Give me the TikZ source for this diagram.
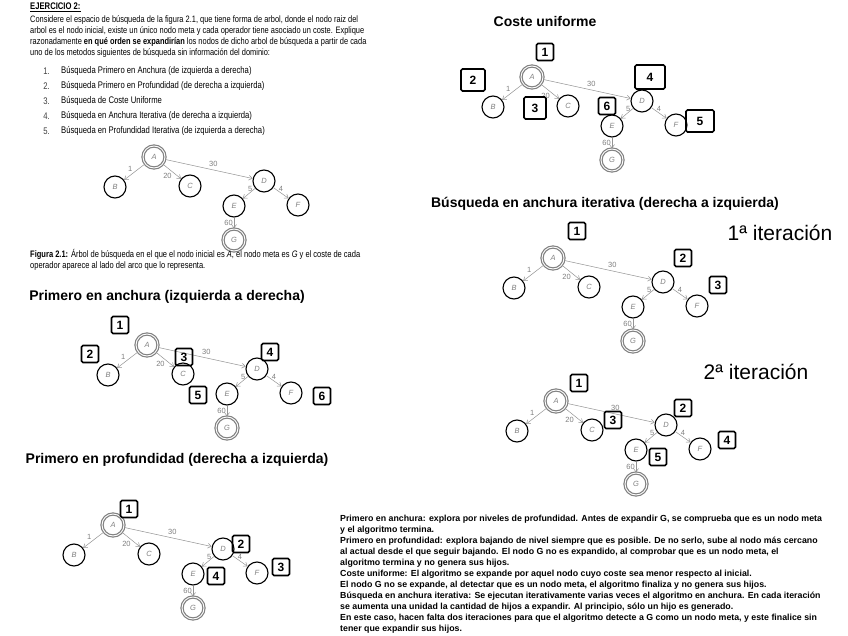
\documentclass[tikz,border=0pt]{standalone}
\usepackage{fontspec}
\setmainfont{Liberation Sans}
\newfontfamily\estrecha[FakeStretch=0.8]{Liberation Sans}
\usetikzlibrary{arrows.meta}

\tikzset{
  nodo/.style={circle, draw, line width=1.1pt, minimum size=22pt, inner sep=0pt,
    text=gray, font=\fontsize{7.5}{7.5}\selectfont\itshape},
  inicial/.style={draw=gray, double=white, double distance=0.9pt, line width=1.2pt},
  arco/.style={draw=gray!85, line width=0.5pt, -{Straight Barb[length=3.5pt,width=5pt]}},
  coste/.style={text=gray, font=\fontsize{7.5}{7.5}\selectfont, inner sep=1pt},
  marca/.style={draw, line width=1.7pt, rounded corners=1.5pt, minimum size=17pt,
    inner sep=1pt, font=\fontsize{12}{12}\selectfont\bfseries},
  titulo/.style={font=\fontsize{14}{16}\selectfont\bfseries},
  mano/.style={font=\fontsize{21}{21}\selectfont},
  pics/arbol/.style={code={
    \node[nodo, inicial] (-nA) at (0,0) {A};
    \node[nodo] (-nB) at (-39,30) {B};
    \node[nodo] (-nC) at (36,29) {C};
    \node[nodo] (-nD) at (110,24) {D};
    \node[nodo] (-nE) at (80,49) {E};
    \node[nodo] (-nF) at (144,48) {F};
    \node[nodo, inicial] (-nG) at (80,83) {G};
    \draw[arco] (-nA) -- node[coste, pos=0.55, above left=0pt] {1} (-nB);
    \draw[arco] (-nA) -- node[coste, pos=0.55, below left=0pt] {20} (-nC);
    \draw[arco] (-nA) -- node[coste, pos=0.55, above=2pt] {30} (-nD);
    \draw[arco] (-nD) -- node[coste, pos=0.4, above=0pt] {5} (-nE);
    \draw[arco] (-nD) -- node[coste, pos=0.5, above=0pt] {4} (-nF);
    \draw[arco] (-nE.south) -- node[coste, pos=0.5, left=0pt] {60} (-nG.north);
  }}
}

\begin{document}
\begin{tikzpicture}[x=1pt, y=-1pt]
  \useasboundingbox[fill=white] (0,0) rectangle (848,636);

  % Enunciado del ejercicio
  \node[anchor=north west, inner sep=0pt, font=\estrecha\fontsize{9.6}{11}\selectfont\bfseries]
    (cab) at (30,3) {\underline{EJERCICIO 2:}};
  \node[anchor=north west, inner sep=0pt, align=left, font=\estrecha\fontsize{9.3}{11}\selectfont]
    (enun) at (30,15) {Considere el espacio de búsqueda de la figura 2.1, que tiene forma de arbol, donde el nodo raiz del\\
    arbol es el nodo inicial, existe un único nodo meta y cada operador tiene asociado un coste. Explique\\
    razonadamente \textbf{en qué orden se expandirían} los nodos de dicho arbol de búsqueda a partir de cada\\
    uno de los metodos siguientes de búsqueda sin información del dominio:};
  \foreach \i/\txt in {1/Búsqueda Primero en Anchura (de izquierda a derecha),
      2/Búsqueda Primero en Profundidad (de derecha a izquierda),
      3/Búsqueda de Coste Uniforme,
      4/Búsqueda en Anchura Iterativa (de derecha a izquierda),
      5/Búsqueda en Profundidad Iterativa (de izquierda a derecha)} {
    \node[anchor=east, inner sep=0pt, font=\estrecha\fontsize{9.6}{11}\selectfont, text=darkgray]
      (num\i) at (50,56+15*\i) {\i.};
    \node[anchor=west, inner sep=0pt, font=\estrecha\fontsize{9.6}{11}\selectfont]
      (item\i) at (61,56+15*\i) {\txt};
  }

  % Figura 2.1
  \pic (t1) at (154,157) {arbol};
  \node[anchor=north west, inner sep=0pt, align=left, font=\estrecha\fontsize{9.4}{11}\selectfont]
    (pie) at (30,249) {\textbf{Figura 2.1:} Árbol de búsqueda en el que el nodo inicial es \textit{A}, el nodo meta es \textit{G} y el coste de cada\\
    operador aparece al lado del arco que lo representa.};

  % Primero en anchura
  \node[titulo] (tit2) at (167,297) {Primero en anchura (izquierda a derecha)};
  \pic (t2) at (147,345) {arbol};
  \node[marca] (m21) at (120,325) {1};
  \node[marca] (m22) at (90,354) {2};
  \node[marca] (m23) at (184,357) {3};
  \node[marca] (m24) at (270,352) {4};
  \node[marca] (m25) at (198,395) {5};
  \node[marca] (m26) at (322,396) {6};

  % Primero en profundidad
  \node[titulo] (tit3) at (177,460) {Primero en profundidad (derecha a izquierda)};
  \pic (t3) at (113,525) {arbol};
  \node[marca] (m31) at (129,509) {1};
  \node[marca] (m32) at (241,544) {2};
  \node[marca] (m33) at (281,567) {3};
  \node[marca] (m34) at (216,576) {4};

  % Coste uniforme
  \node[titulo] (tit4) at (545,22) {Coste uniforme};
  \pic (t4) at (532,77) {arbol};
  \node[marca] (m41) at (545,52) {1};
  \node[marca, minimum width=24pt, minimum height=22pt] (m42) at (473,80) {2};
  \node[marca, minimum width=22pt, minimum height=22pt] (m43) at (535,108) {3};
  \node[marca, minimum width=30pt, minimum height=24pt] (m44) at (650,77) {4};
  \node[marca, minimum width=28pt, minimum height=22pt] (m45) at (700,121) {5};
  \node[marca] (m46) at (607,106) {6};

  % Anchura iterativa
  \node[titulo] (tit5) at (605,204) {Búsqueda en anchura iterativa (derecha a izquierda)};
  \pic (t5) at (553,258) {arbol};
  \node[marca] (m51) at (577,231) {1};
  \node[marca] (m52) at (683,258) {2};
  \node[marca] (m53) at (718,285) {3};
  \node[mano] (it1) at (780,233) {1ª iteración};
  \pic (t6) at (556,401) {arbol};
  \node[marca] (m61) at (579,383) {1};
  \node[marca] (m62) at (683,408) {2};
  \node[marca] (m63) at (613,420) {3};
  \node[marca] (m64) at (727,440) {4};
  \node[marca] (m65) at (658,457) {5};
  \node[mano] (it2) at (756,372) {2ª iteración};

  % Explicacion
  \node[anchor=north west, inner sep=0pt, align=left, font=\fontsize{8.8}{11}\selectfont\bfseries]
    (expl) at (340,515) {Primero en anchura: explora por niveles de profundidad. Antes de expandir G, se comprueba que es un nodo meta\\
    y el algoritmo termina.\\
    Primero en profundidad: explora bajando de nivel siempre que es posible. De no serlo, sube al nodo más cercano\\
    al actual desde el que seguir bajando. El nodo G no es expandido, al comprobar que es un nodo meta, el\\
    algoritmo termina y no genera sus hijos.\\
    Coste uniforme: El algoritmo se expande por aquel nodo cuyo coste sea menor respecto al inicial.\\
    El nodo G no se expande, al detectar que es un nodo meta, el algoritmo finaliza y no genera sus hijos.\\
    Búsqueda en anchura iterativa: Se ejecutan iterativamente varias veces el algoritmo en anchura. En cada iteración\\
    se aumenta una unidad la cantidad de hijos a expandir. Al principio, sólo un hijo es generado.\\
    En este caso, hacen falta dos iteraciones para que el algoritmo detecte a G como un nodo meta, y este finalice sin\\
    tener que expandir sus hijos.};
\end{tikzpicture}
\end{document}
